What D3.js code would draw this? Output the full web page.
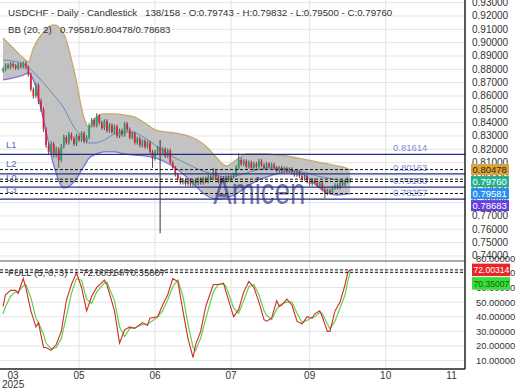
<!DOCTYPE html>
<html><head><meta charset="utf-8">
<script src="https://cdn.jsdelivr.net/npm/d3@7"></script>
<style>html,body{margin:0;padding:0;background:#fff;overflow:hidden}svg{display:block;font-family:"Liberation Sans",Arial,sans-serif}</style>
</head><body><svg id="c" width="520" height="390"></svg>
<script>
const titleMain = "USDCHF - Daily - Candlestick";
const titleInfo = "138/158 - O:0.79743 - H:0.79832 - L:0.79500 - C:0.79760";
const bbLabel = "BB (20, 2)";
const bbInfo = "0.79581/0.80478/0.78683";
const stochLabel = "FULL (5, 0, 3)";
const stochInfo = "72.00314/70.35007";
const watermark = "Amicen";

const openP = [0.8790,0.8800,0.8830,0.8815,0.8840,0.8825,0.8810,0.8835,0.8820,0.8845,0.8815,0.8760,0.8650,0.8600,0.8680,0.8560,0.8500,0.8350,0.8230,0.8180,0.8240,0.8160,0.8200,0.8120,0.8220,0.8290,0.8250,0.8310,0.8280,0.8240,0.8300,0.8270,0.8320,0.8260,0.8290,0.8380,0.8420,0.8380,0.8450,0.8400,0.8360,0.8410,0.8340,0.8380,0.8330,0.8370,0.8300,0.8340,0.8310,0.8390,0.8350,0.8290,0.8320,0.8250,0.8280,0.8230,0.8260,0.8220,0.8250,0.8180,0.8130,0.8180,0.8210,0.8170,0.8200,0.8150,0.8190,0.8100,0.8060,0.8010,0.7980,0.7950,0.7970,0.7940,0.7965,0.7935,0.7960,0.7945,0.7975,0.7950,0.7980,0.7960,0.7995,0.7985,0.8030,0.7990,0.7960,0.7985,0.7965,0.7990,0.7970,0.7995,0.8010,0.8060,0.8120,0.8090,0.8110,0.8070,0.8100,0.8060,0.8090,0.8070,0.8110,0.8080,0.8060,0.8090,0.8070,0.8085,0.8060,0.8040,0.8060,0.8040,0.8055,0.8035,0.8050,0.8025,0.8010,0.8030,0.8000,0.7980,0.7995,0.7960,0.7940,0.7965,0.7950,0.7925,0.7945,0.7900,0.7870,0.7890,0.7875,0.7910,0.7930,0.7915,0.7950,0.7935,0.7960,0.79743];
const highP = [0.8815,0.8845,0.8845,0.8855,0.8855,0.8840,0.8850,0.8850,0.8860,0.8860,0.8830,0.8775,0.8665,0.8700,0.8695,0.8580,0.8515,0.8365,0.8250,0.8260,0.8255,0.8220,0.8215,0.8240,0.8310,0.8305,0.8330,0.8325,0.8295,0.8315,0.8315,0.8335,0.8335,0.8305,0.8395,0.8435,0.8435,0.8470,0.8465,0.8415,0.8425,0.8425,0.8395,0.8395,0.8385,0.8385,0.8355,0.8355,0.8405,0.8405,0.8365,0.8335,0.8335,0.8295,0.8295,0.8275,0.8275,0.8265,0.8265,0.8195,0.8195,0.8225,0.8270,0.8215,0.8215,0.8205,0.8205,0.8115,0.8075,0.8025,0.7995,0.7985,0.7985,0.7980,0.7980,0.7975,0.7975,0.7990,0.7990,0.7995,0.7995,0.8010,0.8010,0.8060,0.8045,0.8005,0.8000,0.8000,0.8005,0.8005,0.8010,0.8025,0.8080,0.8170,0.8140,0.8125,0.8125,0.8115,0.8115,0.8105,0.8105,0.8130,0.8125,0.8095,0.8105,0.8105,0.8100,0.8100,0.8075,0.8075,0.8075,0.8070,0.8070,0.8065,0.8065,0.8040,0.8045,0.8045,0.8015,0.8010,0.8010,0.7975,0.7980,0.7980,0.7965,0.7960,0.7960,0.7915,0.7905,0.7905,0.7925,0.7945,0.7945,0.7965,0.7965,0.7975,0.7990,0.79832];
const lowP = [0.8775,0.8785,0.8800,0.8800,0.8810,0.8795,0.8795,0.8805,0.8805,0.8800,0.8745,0.8635,0.8580,0.8585,0.8540,0.8480,0.8330,0.8210,0.8160,0.8165,0.8140,0.8140,0.8060,0.8105,0.8205,0.8235,0.8235,0.8265,0.8225,0.8225,0.8255,0.8255,0.8245,0.8245,0.8275,0.8365,0.8365,0.8365,0.8385,0.8345,0.8345,0.8325,0.8325,0.8315,0.8315,0.8285,0.8285,0.8295,0.8295,0.8335,0.8275,0.8275,0.8235,0.8235,0.8215,0.8215,0.8205,0.8205,0.8165,0.8060,0.8115,0.8165,0.7570,0.8155,0.8135,0.8135,0.8085,0.8045,0.7995,0.7965,0.7935,0.7935,0.7925,0.7925,0.7920,0.7920,0.7930,0.7930,0.7935,0.7935,0.7945,0.7945,0.7970,0.7970,0.7975,0.7945,0.7945,0.7950,0.7950,0.7955,0.7955,0.7980,0.7995,0.8045,0.8075,0.8075,0.8055,0.8055,0.8045,0.8045,0.8055,0.8055,0.8065,0.8045,0.8045,0.8055,0.8055,0.8045,0.8025,0.8025,0.8025,0.8025,0.8020,0.8020,0.8010,0.7995,0.7995,0.7985,0.7965,0.7965,0.7945,0.7925,0.7925,0.7935,0.7910,0.7910,0.7885,0.7830,0.7855,0.7860,0.7860,0.7895,0.7900,0.7900,0.7920,0.7920,0.7945,0.79500];
const closeP = [0.8800,0.8830,0.8815,0.8840,0.8825,0.8810,0.8835,0.8820,0.8845,0.8815,0.8760,0.8650,0.8600,0.8680,0.8560,0.8500,0.8350,0.8230,0.8180,0.8240,0.8160,0.8200,0.8120,0.8220,0.8290,0.8250,0.8310,0.8280,0.8240,0.8300,0.8270,0.8320,0.8260,0.8290,0.8380,0.8420,0.8380,0.8450,0.8400,0.8360,0.8410,0.8340,0.8380,0.8330,0.8370,0.8300,0.8340,0.8310,0.8390,0.8350,0.8290,0.8320,0.8250,0.8280,0.8230,0.8260,0.8220,0.8250,0.8180,0.8130,0.8180,0.8210,0.8170,0.8200,0.8150,0.8190,0.8100,0.8060,0.8010,0.7980,0.7950,0.7970,0.7940,0.7965,0.7935,0.7960,0.7945,0.7975,0.7950,0.7980,0.7960,0.7995,0.7985,0.8030,0.7990,0.7960,0.7985,0.7965,0.7990,0.7970,0.7995,0.8010,0.8060,0.8120,0.8090,0.8110,0.8070,0.8100,0.8060,0.8090,0.8070,0.8110,0.8080,0.8060,0.8090,0.8070,0.8085,0.8060,0.8040,0.8060,0.8040,0.8055,0.8035,0.8050,0.8025,0.8010,0.8030,0.8000,0.7980,0.7995,0.7960,0.7940,0.7965,0.7950,0.7925,0.7945,0.7900,0.7870,0.7890,0.7875,0.7910,0.7930,0.7915,0.7950,0.7935,0.7960,0.7974,0.79760];

const bandIdx  = [0,4,8,10,12,16,20,24,28,32,34,36,40,44,48,52,56,60,64,68,72,76,80,84,88,92,96,100,104,108,112,116,120,124,128,132,136,137];
const bbUpper  = [0.9035,0.8960,0.8885,0.8855,0.8960,0.9080,0.9133,0.9065,0.8795,0.8435,0.8360,0.8427,0.8465,0.8465,0.8457,0.8442,0.8397,0.8345,0.8330,0.8322,0.8307,0.8277,0.8225,0.8142,0.8075,0.8120,0.8165,0.8165,0.8165,0.8157,0.8150,0.8135,0.8120,0.8105,0.8090,0.8075,0.8056,0.80478];
const bbMiddle = [0.8870,0.8862,0.8840,0.8817,0.8780,0.8697,0.8607,0.8510,0.8367,0.8285,0.8247,0.8247,0.8270,0.8315,0.8330,0.8322,0.8285,0.8232,0.8180,0.8135,0.8097,0.8060,0.8030,0.8007,0.7992,0.8000,0.8022,0.8045,0.8060,0.8060,0.8052,0.8037,0.8022,0.8000,0.7985,0.7970,0.7960,0.79581];
const bbLower  = [0.8720,0.8735,0.8757,0.8772,0.8720,0.8420,0.8082,0.7910,0.7955,0.8075,0.8135,0.8157,0.8180,0.8180,0.8165,0.8157,0.8150,0.8135,0.8105,0.8060,0.8000,0.7925,0.7857,0.7827,0.7835,0.7865,0.7917,0.7962,0.7992,0.8015,0.8030,0.8030,0.7992,0.7925,0.7872,0.7857,0.7865,0.78683];

const stochIdx = [0,1,3,5,6,8,9,11,13,14,16,17,19,21,23,25,27,29,31,33,35,37,40,41,44,46,48,50,52,55,57,58,61,63,65,67,69,71,73,75,76,78,80,83,85,87,88,91,93,95,97,99,101,103,104,106,108,109,110,112,114,116,118,120,122,123,125,126,128,129,131,133,135,136,137];
const stochK = [47,55,58,58,56,66,60,44,33,36,19,19,17,21,30,51,62,70,60,44,54,60,65,62,44,22,31,33,32,36,34,39,40,48,55,66,64,44,25,12,21,30,47,62,62,63,57,40,45,57,64,60,50,38,37,39,51,47,48,52,48,37,35,40,39,42,44,40,30,30,44,50,62,70,72.00314];
const stochD = [42,47,54,57,57,61,62,53,39,36,28,22,18,19,25,40,56,66,65,52,49,57,63,63.5,51,33,26.5,32,32.5,34.7,35,36,39.7,44,51.5,60.5,65,54,35,19,17,25.5,38.5,57,62,62.5,60.7,46,42.5,51,60.5,62,55,44,41,38,45,47.7,48.7,50,50,42.5,36,37.5,39.5,40,43,42.3,35,31.7,37,46,55,64,70.35007];

const xDomain = [-1.18, 182.3];
const xTickIdx = [4,30,60,90,121,151,177];
const xTickLabels = ["03","05","06","07","09","10","11"];
const xGridIdx = [30,60,90,121,151];
const yearLabel = "2025";
const priceDomain = [0.73545, 0.92975];
const priceTicks = [0.74,0.75,0.76,0.77,0.78,0.79,0.80,0.81,0.82,0.83,0.84,0.85,0.86,0.87,0.88,0.89,0.90,0.91,0.92,0.93];
const stochDomain = [4.28, 78.07];
const stochTicks = [10,20,30,40,50,60,70,80];
const stochTickLabels = ["10.00000","20.00000","30.00000","40.00000","50.00000","60.00000","70.00000","80.00000"];
const levelNames = ["L1","L2","L0","L3"];
const levelValues = [0.81614,0.80163,0.79160,0.78257];
const levelTexts = ["0.81614","0.80163","0.79160","0.78257"];
const markerValues = [0.80478,0.79760,0.79581,0.78683];
const markerTexts = ["0.80478","0.79760","0.79581","0.78683"];
const markerFill = ["#d9a53a","#27b08c","#2b8ff0","#6440e0"];
const markerInk = ["#3a2800","#ffffff","#ffffff","#ffffff"];
const stochMarkerValues = [72.00314,70.35007];
const stochMarkerTexts = ["72.00314","70.35007"];
const stochMarkerFill = ["#e8262a","#35e035"];
const stochMarkerInk = ["#ffffff","#1d5a1d"];

const W = 465, mainTop = 3, mainBot = 261, lowTop = 261, lowBot = 369;
const svg = d3.select("#c");
const x = d3.scaleLinear().domain(xDomain).range([0, W]);
const y = d3.scaleLinear().domain(priceDomain).range([mainBot + 1, mainTop]);
const ys = d3.scaleLinear().domain(stochDomain).range([lowBot, lowTop]);

const defs = svg.append("defs");
defs.append("clipPath").attr("id","cm").append("rect").attr("x",0).attr("y",0).attr("width",W).attr("height",mainBot);
defs.append("clipPath").attr("id","cl").append("rect").attr("x",0).attr("y",lowTop).attr("width",W).attr("height",lowBot-lowTop);
defs.append("clipPath").attr("id","ca").append("rect").attr("x",W).attr("y",0).attr("width",60).attr("height",lowBot);

// grids
const gm = svg.append("g").attr("clip-path","url(#cm)");
gm.selectAll("line.h").data(priceTicks).join("line").attr("x1",0).attr("x2",W)
  .attr("y1",d=>y(d)).attr("y2",d=>y(d)).attr("stroke","#e4e4e4");
gm.selectAll("line.v").data(xGridIdx).join("line").attr("x1",d=>x(d)).attr("x2",d=>x(d))
  .attr("y1",0).attr("y2",mainBot).attr("stroke","#e4e4e4");
const gl = svg.append("g").attr("clip-path","url(#cl)");
gl.selectAll("line.h").data(stochTicks).join("line").attr("x1",0).attr("x2",W)
  .attr("y1",d=>ys(d)).attr("y2",d=>ys(d)).attr("stroke","#e4e4e4");
gl.selectAll("line.v").data(xGridIdx).join("line").attr("x1",d=>x(d)).attr("x2",d=>x(d))
  .attr("y1",lowTop).attr("y2",lowBot).attr("stroke","#e4e4e4");

// Bollinger band
const band = bandIdx.map((d,i)=>({i:d,u:bbUpper[i],m:bbMiddle[i],l:bbLower[i]}));
gm.append("path").datum(band).attr("fill","#c3c3c3")
  .attr("d", d3.area().curve(d3.curveMonotoneX).x(d=>x(d.i)).y0(d=>y(d.l)).y1(d=>y(d.u)));
gm.append("path").datum(band).attr("fill","none").attr("stroke","#c8a86a").attr("stroke-width",1.3)
  .attr("d", d3.line().curve(d3.curveMonotoneX).x(d=>x(d.i)).y(d=>y(d.u)));
gm.append("path").datum(band).attr("fill","none").attr("stroke","#7a72e2").attr("stroke-width",1.3)
  .attr("d", d3.line().curve(d3.curveMonotoneX).x(d=>x(d.i)).y(d=>y(d.l)));
gm.append("path").datum(band).attr("fill","none").attr("stroke","#5d8fc2").attr("stroke-width",1)
  .attr("d", d3.line().curve(d3.curveMonotoneX).x(d=>x(d.i)).y(d=>y(d.m)));

// candles
const bars = closeP.map((c,i)=>({i, o:openP[i], h:highP[i], l:lowP[i], c}));
const cg = gm.append("g");
cg.selectAll("line.w").data(bars).join("line")
  .attr("x1",d=>x(d.i)).attr("x2",d=>x(d.i)).attr("y1",d=>y(d.h)).attr("y2",d=>y(d.l))
  .attr("stroke",d=>d.i===62?"#333":"#555").attr("stroke-width",1);
cg.selectAll("rect").data(bars).join("rect")
  .attr("x",d=>x(d.i)-0.9).attr("width",1.8)
  .attr("y",d=>y(Math.max(d.o,d.c))).attr("height",d=>Math.max(1,Math.abs(y(d.o)-y(d.c))))
  .attr("fill",d=>d.c>=d.o?"#23a06e":"#e0223e");

// watermark
svg.append("text").attr("x",x(83)).attr("y",y(0.7790)).attr("font-size",36)
  .attr("textLength",92).attr("lengthAdjust","spacingAndGlyphs")
  .attr("fill","#34378a").attr("fill-opacity",0.7).text(watermark);

// level lines
const lv = svg.append("g");
levelValues.forEach((v,k)=>{
  lv.append("line").attr("x1",0).attr("x2",W).attr("y1",y(v)).attr("y2",y(v))
    .attr("stroke","#25307f").attr("stroke-width",1.2);
  lv.append("text").attr("x",6).attr("y",y(v)-6.5).attr("font-size",9.5).attr("fill","#5a6bc4").text(levelNames[k]);
  lv.append("text").attr("x",393).attr("y",y(v)-3).attr("font-size",9.5).attr("fill","#7f8cd8").text(levelTexts[k]);
});
markerValues.forEach(v=>{
  lv.append("line").attr("x1",0).attr("x2",W).attr("y1",y(v)).attr("y2",y(v))
    .attr("stroke","#111").attr("stroke-width",1).attr("stroke-dasharray","3,2");
});

// stochastic
const st = stochIdx.map((d,i)=>({i:d,k:stochK[i],d:stochD[i]}));
gl.append("path").datum(st).attr("fill","none").attr("stroke","#62d04c").attr("stroke-width",1.2)
  .attr("d", d3.line().x(d=>x(d.i)).y(d=>ys(d.d)));
gl.append("path").datum(st).attr("fill","none").attr("stroke","#d42a2a").attr("stroke-width",1.1)
  .attr("d", d3.line().x(d=>x(d.i)).y(d=>ys(d.k)));
stochMarkerValues.forEach(v=>{
  svg.append("line").attr("x1",0).attr("x2",W).attr("y1",ys(v)).attr("y2",ys(v))
    .attr("stroke","#111").attr("stroke-width",1).attr("stroke-dasharray","3,2");
});

// frame
svg.append("line").attr("x1",0).attr("x2",W).attr("y1",lowTop).attr("y2",lowTop).attr("stroke","#555").attr("stroke-width",1);
svg.append("line").attr("x1",0).attr("x2",W).attr("y1",lowBot).attr("y2",lowBot).attr("stroke","#222").attr("stroke-width",1.5);
svg.append("line").attr("x1",W).attr("x2",W).attr("y1",0).attr("y2",lowBot).attr("stroke","#222").attr("stroke-width",1.5);

// axis labels
const ax = svg.append("g").attr("clip-path","url(#ca)").attr("font-size",10).attr("fill","#333");
ax.selectAll("text.p").data(priceTicks).join("text").attr("x",472).attr("y",d=>y(d)+3.5)
  .text(d=>d3.format(".5f")(d));
ax.selectAll("text.s").data(stochTicks).join("text").attr("x",476).attr("y",d=>ys(d)+3.5)
  .attr("font-size",9.4).text((d,i)=>stochTickLabels[i]);

// badges
function badges(vals, texts, fills, inks, scale, h, x0, w, fs){
  let last = -1e9;
  vals.forEach((v,k)=>{
    let cy = Math.max(scale(v), last + h + 1);
    last = cy;
    svg.append("rect").attr("x",x0).attr("y",cy-h/2).attr("width",w).attr("height",h).attr("fill",fills[k]);
    svg.append("text").attr("x",x0+1.5).attr("y",cy+3.5).attr("font-size",fs).attr("fill",inks[k]).text(texts[k]);
  });
}
badges(markerValues, markerTexts, markerFill, markerInk, y, 11, 471, 38, 9.5);
badges(stochMarkerValues, stochMarkerTexts, stochMarkerFill, stochMarkerInk, ys, 12.5, 472, 38, 8.6);

// x axis
const xa = svg.append("g").attr("font-size",10).attr("fill","#333").attr("text-anchor","middle");
xa.selectAll("text").data(xTickIdx).join("text").attr("x",d=>x(d)).attr("y",378.5).text((d,i)=>xTickLabels[i]);
svg.append("text").attr("x",x(xTickIdx[0])).attr("y",387.5).attr("font-size",10).attr("fill","#333").attr("text-anchor","middle").text(yearLabel);

// titles
const tg = svg.append("g").attr("font-size",9.7).attr("fill","#333");
tg.append("text").attr("x",8).attr("y",15.5).text(titleMain);
tg.append("text").attr("x",145).attr("y",15.5).text(titleInfo);
tg.append("text").attr("x",8).attr("y",33).text(bbLabel);
tg.append("text").attr("x",60).attr("y",33).text(bbInfo);
tg.append("text").attr("x",8).attr("y",276).text(stochLabel);
tg.append("text").attr("x",82).attr("y",276).text(stochInfo);
</script></body></html>
